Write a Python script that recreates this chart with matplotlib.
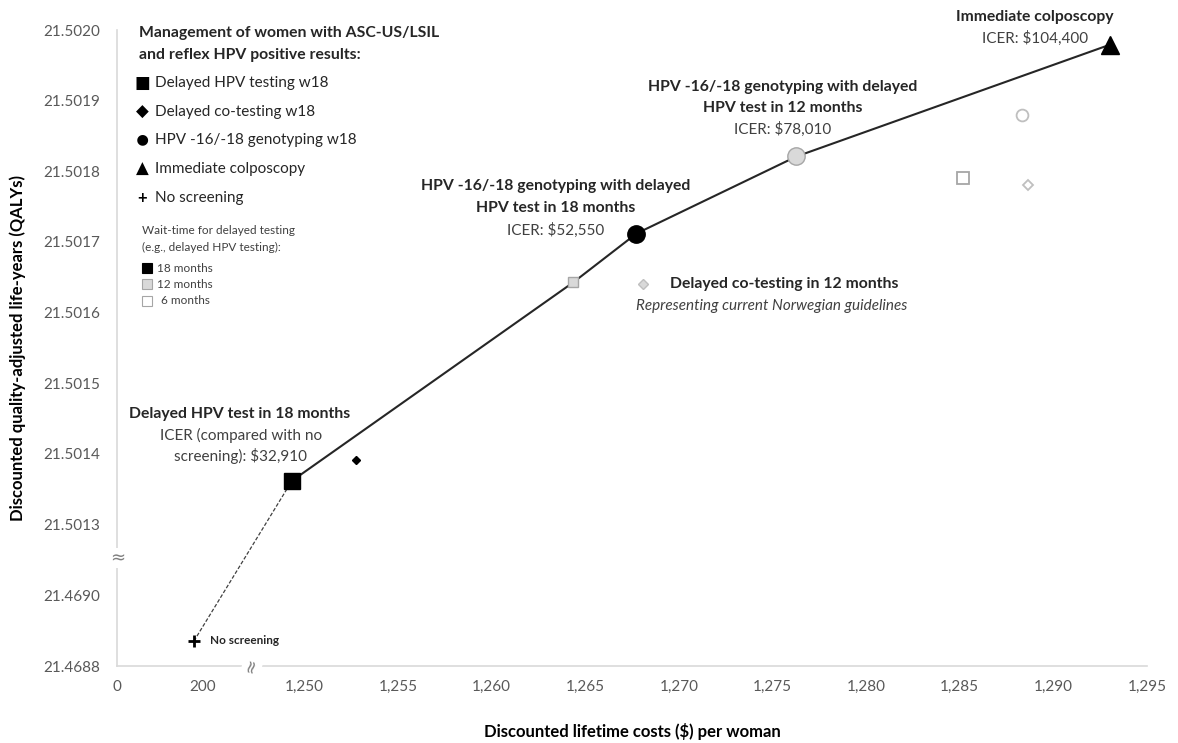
import numpy as np
import matplotlib
matplotlib.use("Agg")
import matplotlib.pyplot as plt
from matplotlib.patches import Rectangle
from matplotlib.ticker import FixedLocator, FixedFormatter, NullLocator

# ---------------- data ----------------
# efficient frontier (solid line): delayed HPV 18m, delayed HPV 12m, genotyping 18m, genotyping 12m, immediate colposcopy
frontier_cost = [1249.34, 1264.37, 1267.74, 1276.28, 1293.00]
frontier_qaly = [21.501362, 21.501643, 21.501712, 21.501821, 21.501979]

no_screen_cost = [179.0]
no_screen_qaly = [21.468871]

hpv18_cost, hpv18_qaly = [1249.34], [21.501362]          # delayed HPV testing, 18 months
hpv12_cost, hpv12_qaly = [1264.37], [21.501643]          # delayed HPV testing, 12 months
hpv6_cost, hpv6_qaly = [1285.20], [21.501791]            # delayed HPV testing, 6 months
cot18_cost, cot18_qaly = [1252.78], [21.501391]          # delayed co-testing, 18 months
cot12_cost, cot12_qaly = [1268.11], [21.501641]          # delayed co-testing, 12 months
cot6_cost, cot6_qaly = [1288.62], [21.501780]            # delayed co-testing, 6 months
gen18_cost, gen18_qaly = [1267.74], [21.501712]          # genotyping, 18 months
gen12_cost, gen12_qaly = [1276.28], [21.501821]          # genotyping, 12 months
gen6_cost, gen6_qaly = [1288.30], [21.501880]            # genotyping, 6 months
colpo_cost, colpo_qaly = [1293.00], [21.501979]          # immediate colposcopy

x_ticks = [0, 200, 1250, 1255, 1260, 1265, 1270, 1275, 1280, 1285, 1290, 1295]
x_tick_labels = ["0", "200", "1,250", "1,255", "1,260", "1,265", "1,270",
                 "1,275", "1,280", "1,285", "1,290", "1,295"]
y_ticks = [21.4688, 21.4690, 21.5013, 21.5014, 21.5015, 21.5016,
           21.5017, 21.5018, 21.5019, 21.5020]
y_tick_labels = ["21.4688", "21.4690", "21.5013", "21.5014", "21.5015",
                 "21.5016", "21.5017", "21.5018", "21.5019", "21.5020"]

# ---------------- broken-axis scales ----------------
X_XP = [-2000.0, 315.56, 1247.25, 3000.0]
X_FP = [-9.19, 1.45, 1.4501, (3000.0 - 1240.0) / 5.0]
Y_XP = [21.46, 21.469105, 21.5012525, 21.52]
Y_FP = [-44.0, 1.525, 1.5251, 2 + (21.52 - 21.5013) / 0.0001]


def xf(v):
    return np.interp(np.asarray(v, dtype=float), X_XP, X_FP)


def xi(v):
    return np.interp(np.asarray(v, dtype=float), X_FP, X_XP)


def yf(v):
    return np.interp(np.asarray(v, dtype=float), Y_XP, Y_FP)


def yi(v):
    return np.interp(np.asarray(v, dtype=float), Y_FP, Y_XP)


FONT = ["Lato", "DejaVu Sans"]
plt.rcParams["font.family"] = FONT

W, H = 1178, 743
fig = plt.figure(figsize=(W / 100, H / 100), dpi=100)
ax = fig.add_axes([117 / W, 1 - 666 / H, 1030 / W, 636 / H])
ax.set_xscale("function", functions=(xf, xi))
ax.set_yscale("function", functions=(yf, yi))
ax.set_xlim(0, 1295)
ax.set_ylim(21.4688, 21.5020)

for s in ["top", "right"]:
    ax.spines[s].set_visible(False)
for s in ["left", "bottom"]:
    ax.spines[s].set_color("#d9d9d9")
    ax.spines[s].set_linewidth(1.2)

ax.xaxis.set_major_locator(FixedLocator(x_ticks))
ax.xaxis.set_major_formatter(FixedFormatter(x_tick_labels))
ax.yaxis.set_major_locator(FixedLocator(y_ticks))
ax.yaxis.set_major_formatter(FixedFormatter(y_tick_labels))
ax.xaxis.set_minor_locator(NullLocator())
ax.yaxis.set_minor_locator(NullLocator())
ax.tick_params(axis="x", length=0, pad=10, labelsize=11, labelcolor="#595959")
ax.tick_params(axis="y", length=0, pad=12, labelsize=11, labelcolor="#595959")

# lines
ax.plot(frontier_cost, frontier_qaly, color="#262626", lw=1.5, zorder=2)
ax.plot([no_screen_cost[0], hpv18_cost[0]], [no_screen_qaly[0], hpv18_qaly[0]],
        color="#404040", lw=0.9, ls=(0, (3, 1.5)), zorder=2)

# markers
ax.plot(no_screen_cost, no_screen_qaly, "+", color="black", ms=9, mew=2, zorder=4)
ax.plot(hpv18_cost, hpv18_qaly, "s", color="black", ms=12, zorder=4)
ax.plot(hpv12_cost, hpv12_qaly, "s", mfc="#d9d9d9", mec="#a6a6a6", ms=7, mew=1, zorder=4)
ax.plot(hpv6_cost, hpv6_qaly, "s", mfc="white", mec="#a6a6a6", ms=8, mew=1.3, zorder=4)
ax.plot(cot18_cost, cot18_qaly, "D", color="black", ms=3.8, zorder=4)
ax.plot(cot12_cost, cot12_qaly, "D", mfc="#d9d9d9", mec="#bfbfbf", ms=4.8, mew=1, zorder=4)
ax.plot(cot6_cost, cot6_qaly, "D", mfc="white", mec="#bfbfbf", ms=5.6, mew=1.3, zorder=4)
ax.plot(gen18_cost, gen18_qaly, "o", color="black", ms=12.5, zorder=4)
ax.plot(gen12_cost, gen12_qaly, "o", mfc="#d9d9d9", mec="#a6a6a6", ms=12.5, mew=1, zorder=4)
ax.plot(gen6_cost, gen6_qaly, "o", mfc="white", mec="#bfbfbf", ms=8.5, mew=1.3, zorder=4)
ax.plot(colpo_cost, colpo_qaly, "^", color="black", ms=13, zorder=4)

# axis labels
fig.text(632 / W, 1 - 732 / H, "Discounted lifetime costs ($) per woman",
         ha="center", va="center", fontsize=12, fontweight="bold")
fig.text(18 / W, 1 - 348 / H, "Discounted quality-adjusted life-years (QALYs)",
         ha="center", va="center", rotation=90, fontsize=12, fontweight="bold")


def t(px, py, s, ha="left", size=11, weight="normal", color="#262626", style="normal", **kw):
    fig.text(px / W, 1 - py / H, s, ha=ha, va="center", fontsize=size,
             fontweight=weight, color=color, fontstyle=style, **kw)


BS = 11.3  # bold annotation size

# annotations
t(1035, 17, "Immediate colposcopy", ha="center", weight="bold", size=BS)
t(1035, 38, "ICER: $104,400", ha="center", color="#404040")
t(783, 87, "HPV -16/-18 genotyping with delayed", ha="center", weight="bold", size=BS)
t(783, 108, "HPV test in 12 months", ha="center", weight="bold", size=BS)
t(783, 129, "ICER: $78,010", ha="center", color="#404040")
t(556, 186, "HPV -16/-18 genotyping with delayed", ha="center", weight="bold", size=BS)
t(556, 208, "HPV test in 18 months", ha="center", weight="bold", size=BS)
t(556, 230, "ICER: $52,550", ha="center", color="#404040")
t(670, 284, "Delayed co-testing in 12 months", weight="bold", size=BS)
t(636, 306, "Representing current Norwegian guidelines", style="italic", color="#404040")
t(240, 414, "Delayed HPV test in 18 months", ha="center", weight="bold", size=BS)
t(241, 435, "ICER (compared with no", ha="center", color="#404040")
t(241, 456, "screening): $32,910", ha="center", color="#404040")
t(210, 641, "No screening", size=8.5, weight="bold")

# legend block
t(139, 33, "Management of women with ASC-US/LSIL", weight="bold", size=BS)
t(139, 55, "and reflex HPV positive results:", weight="bold", size=BS)
legend_rows = [("\u25A0", "Delayed HPV testing w18", 83, 12),
               ("\u25C6", "Delayed co-testing w18", 112, 12),
               ("\u25CF", "HPV -16/-18 genotyping w18", 140, 16),
               ("\u25B2", "Immediate colposcopy", 169, 12),
               ("+", "No screening", 198, 12)]
for glyph, label, py, gs in legend_rows:
    t(142, py, glyph, ha="center", size=gs, color="black",
      weight="bold" if glyph == "+" else "normal")
    t(155, py, label, color="#262626")
t(142, 230, "Wait-time for delayed testing", size=8.5, color="#404040")
t(142, 247, "(e.g., delayed HPV testing):", size=8.5, color="#404040")
wait_rows = [("black", "black", "18 months", 268, 157),
             ("#d9d9d9", "#a6a6a6", "12 months", 284, 157),
             ("white", "#a6a6a6", "6 months", 301, 161)]
for fc, ec, label, py, tx in wait_rows:
    fig.patches.append(Rectangle((142 / W, 1 - (py + 4.5) / H), 9.5 / W, 9.5 / H,
                                 facecolor=fc, edgecolor=ec, lw=0.8,
                                 transform=fig.transFigure, figure=fig))
    t(tx, py, label, size=8.5, color="#404040")

# axis-break marks
t(118, 558, "\u2248", ha="center", size=13, color="#7f7f7f", family="DejaVu Sans",
  bbox=dict(boxstyle="square,pad=0.05", fc="white", ec="none"))
t(252, 666, "\u2248", ha="center", size=13, color="#7f7f7f", rotation=75, family="DejaVu Sans",
  bbox=dict(boxstyle="square,pad=0.05", fc="white", ec="none"))

fig.savefig("out.png", dpi=100, facecolor="white")
